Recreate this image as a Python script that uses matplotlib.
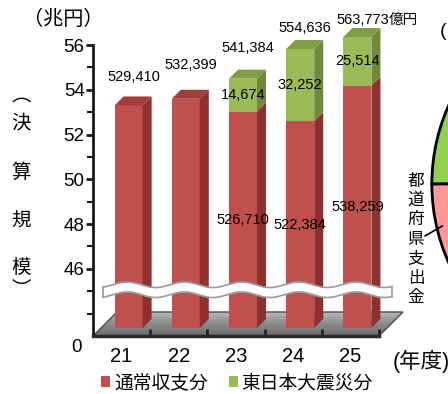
import numpy as np
import matplotlib
matplotlib.use("Agg")
import matplotlib.pyplot as plt
from matplotlib.patches import Polygon
from matplotlib.ticker import FixedLocator
from matplotlib.transforms import IdentityTransform
from matplotlib.colors import LinearSegmentedColormap

plt.rcParams['font.family'] = ['Liberation Sans', 'Noto Sans CJK JP', 'DejaVu Sans']

# 決算規模 (億円)
years = ['21', '22', '23', '24', '25']
normal = np.array([529410, 532399, 526710, 522384, 538259])   # 通常収支分
quake = np.array([0, 0, 14674, 32252, 25514])                 # 東日本大震災分
total = normal + quake
series_names = ['通常収支分', '東日本大震災分']

# neighbouring pie, mostly cropped away: (green slice, 都道府県支出金, rest)
pie_share = [0.15, 0.08, 0.77]
pie_label = '都道府県支出金'

# how far the total labels sit above the bar top (px)
top_lift = [28, 34, 31, 21, 17]

W, H = 448, 394
RED = ('#C0504D', '#8E302D', '#A23D3A')     # front, side, top
GREEN = ('#9BBB59', '#6E8A3A', '#809E45')
PIE_COLORS = ['#92D050', '#FF9999', 'white']

# broken axis: 0..45 squeezed into 2 units, linear above 45
BREAK, FLOOR = 45.0, 43.0

def fwd(v):
    v = np.asarray(v, dtype=float)
    return np.where(v >= BREAK, v, FLOOR + v * (BREAK - FLOOR) / BREAK)

def inv(y):
    y = np.asarray(y, dtype=float)
    return np.where(y >= BREAK, y, (y - FLOOR) * BREAK / (BREAK - FLOOR))

def rect(left, top, width, height):
    return [left / W, 1 - (top + height) / H, width / W, height / H]

def to_px(a, xv, yv):
    d = a.transData.transform((xv, yv))
    return d[0], H - d[1]

fig = plt.figure(figsize=(W / 100, H / 100), dpi=100)
bg = fig.add_axes([0, 0, 1, 1], zorder=0)
ax = fig.add_axes(rect(93, 45, 286, 291), zorder=1)
bx = fig.add_axes(rect(100, 37, 286, 291), zorder=2)   # bars sit a bit deeper
pa = fig.add_axes(rect(428, -12, 392, 392), zorder=4)
fg = fig.add_axes([0, 0, 1, 1], zorder=5)

for a in (ax, bx):
    a.set_yscale('function', functions=(fwd, inv))
    a.set_ylim(0, 56)
    a.set_xlim(-0.5, 4.5)
    a.patch.set_visible(False)
bx.axis('off')

# ---- axis look
ax.spines[['top', 'right']].set_visible(False)
ax.spines['left'].set_linewidth(2)
ax.spines['left'].set_color('#1a1a1a')
ax.spines['bottom'].set_linewidth(2.5)
ax.spines['bottom'].set_color('#2a2a2a')
x = np.arange(len(years))
ax.set_xticks(x, years)
ax.xaxis.set_minor_locator(FixedLocator(x + 0.5))
ax.tick_params(axis='x', which='major', length=0, pad=8, labelsize=14.5)
ax.tick_params(axis='x', which='minor', direction='in', length=5, width=2, color='#222')
ax.set_yticks([46, 48, 50, 52, 54, 56])
ax.yaxis.set_minor_locator(FixedLocator([float(inv(44)), 45, 47, 49, 51, 53, 55]))
ax.tick_params(axis='y', which='major', length=5, width=2, pad=1, labelsize=13.5, color='#1a1a1a')
ax.tick_params(axis='y', which='minor', length=4, width=1.5, color='#1a1a1a')
ax.annotate('0', xy=(0, 0), xycoords=('axes fraction', 'data'), xytext=(-17, -12),
            textcoords='offset pixels', ha='center', va='center', fontsize=13.5,
            annotation_clip=False)

# ---- floor
fx0, fy0 = to_px(ax, -0.5, 0)
fx1, _ = to_px(ax, 4.5, 0)
d = 24
floor = Polygon([(fx0, fy0), (fx1, fy0), (fx1 + d, fy0 - d), (fx0 + d, fy0 - d)],
                closed=True, fc='none', ec='#4a4a4a', lw=1)
bg.add_patch(floor)
cm_floor = LinearSegmentedColormap.from_list('floor', ['#b8b8b8', '#8a8a8a', '#6a6a6a'])
im = bg.imshow(np.linspace(0, 1, 60)[:, None], cmap=cm_floor, aspect='auto',
               extent=(fx0, fx1 + d, fy0, fy0 - d))
im.set_clip_path(floor)
for a in (bg, fg):
    a.set_xlim(0, W)
    a.set_ylim(H, 0)
    a.axis('off')

# ---- bars (front faces) + fake depth
n = normal / 1e4
q = quake / 1e4
t = total / 1e4
w = 0.49
red = bx.bar(x, n, w, color=RED[0])
grn = bx.bar(x, q, w, bottom=n, color=GREEN[0])

D = 9
ymax = bx.get_ylim()[1]
for i in range(len(x)):
    segs = [(0, n[i], RED)]
    if q[i] > 0:
        segs.append((n[i], t[i], GREEN))
    for b, tp, col in segs:
        tp = min(tp, ymax)
        xl, yb = bx.transData.transform((x[i] - w / 2, b))
        xr, yt = bx.transData.transform((x[i] + w / 2, tp))
        bx.add_patch(Polygon([(xr, yb), (xr, yt), (xr + D, yt + D), (xr + D, yb + D)],
                             closed=True, transform=IdentityTransform(),
                             fc=col[1], ec='none', clip_on=False))
    bx.add_patch(Polygon([(xl, yt), (xr, yt), (xr + D, yt + D), (xl + D, yt + D)],
                         closed=True, transform=IdentityTransform(),
                         fc=segs[-1][2][2], ec='none', clip_on=False))

    top = min(t[i], ymax)
    lab = bx.annotate(f'{total[i]:,}', xy=(x[i], top), xytext=(5, top_lift[i]),
                      textcoords='offset pixels', ha='center', va='center',
                      fontsize=10.5, annotation_clip=False)
    if i == len(x) - 1:
        bx.annotate('億円', xy=(1, 0.5), xycoords=lab, ha='left', va='center', fontsize=10.5)
    if q[i] > 0:
        bx.text(x[i], float(inv((fwd(0) + fwd(n[i])) / 2)), f'{normal[i]:,}',
                ha='center', va='center', fontsize=10.5)
        bx.text(x[i], float(inv((fwd(n[i]) + fwd(top)) / 2)), f'{quake[i]:,}',
                ha='center', va='center', fontsize=10.5)

# ---- wavy break band
_, wy = to_px(ax, 0, BREAK)
wx0 = fx0 + 10
wx1 = fx1 + 13
cat = (fx1 - fx0) / len(years)
wx = np.linspace(wx0, wx1, 400)
yc = wy - 1.5 - 2.8 * np.cos(2 * np.pi * (wx - wx0 - 24) / cat)
fg.fill_between(wx, yc - 5, yc + 5, color='white', lw=0)
fg.plot(wx, yc - 5, color='#9a9a9a', lw=1.2)
fg.plot(wx, yc + 5, color='#9a9a9a', lw=1.2)
fg.plot([wx0, wx0], [yc[0] - 5, yc[0] + 5], color='#9a9a9a', lw=1.2)
fg.plot([wx1, wx1], [yc[-1] - 5, yc[-1] + 5], color='#9a9a9a', lw=1.2)

# ---- texts
fg.text(23, 19, '（兆円）', ha='left', va='center', fontsize=14.5)
for ch, yy in zip('︵決算規模︶', [97, 123, 173, 222, 268, 291]):
    fg.text(21, yy, ch, ha='center', va='center', fontsize=14)
fg.text(393, 361, '(年度)', ha='left', va='center', fontsize=15.5)
fg.text(440, 31, '(', ha='left', va='center', fontsize=14)

fig.legend(handles=[red, grn], labels=series_names, loc='center left',
           bbox_to_anchor=(101 / W, 1 - 383 / H), ncol=2, frameon=False,
           fontsize=13.5, handlelength=0.5, handleheight=0.5, handletextpad=0.2,
           columnspacing=1.1, borderpad=0, borderaxespad=0)

# ---- cropped pie on the right
pa.pie(pie_share, colors=PIE_COLORS, startangle=180 - 360 * pie_share[0],
       counterclock=True, wedgeprops=dict(edgecolor='black', linewidth=2))
pa.set_xlim(-1.02, 1.02)
pa.set_ylim(-1.02, 1.02)
th = np.deg2rad(193)
pa.annotate('', xy=(0.97 * np.cos(th), 0.97 * np.sin(th)), xytext=(425, H - 236),
            textcoords='figure pixels',
            arrowprops=dict(arrowstyle='-', color='black', lw=1.2, shrinkA=0, shrinkB=0))
for k, ch in enumerate(pie_label):
    fg.text(416, 181 + k * 19.4, ch, ha='center', va='center', fontsize=12)

fig.savefig('out.png', dpi=100)
